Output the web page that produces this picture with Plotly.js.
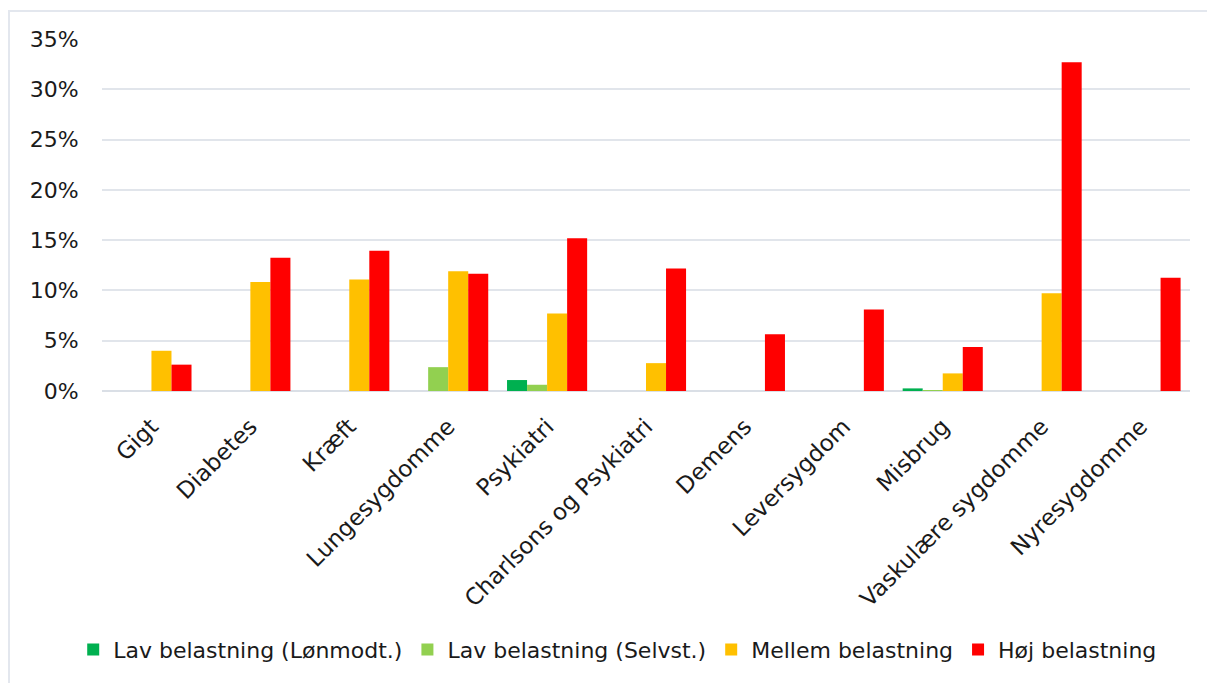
<!DOCTYPE html>
<html>
<head>
<meta charset="utf-8">
<script src="https://cdn.plot.ly/plotly-3.0.1.min.js"></script>
<style>
  html, body { margin: 0; padding: 0; background: #fff; }
  #wrap { position: relative; width: 1207px; height: 683px; overflow: hidden; }
  #chart { position: absolute; left: 0; top: 0; width: 1207px; height: 683px; }
  #frame { position: absolute; left: 8px; top: 10px; width: 1220px; height: 700px;
           border: 2px solid #e3e7ee; box-sizing: border-box; pointer-events: none; }
</style>
</head>
<body>
<div id="wrap">
  <div id="chart"></div>
  <div id="frame"></div>
</div>
<script>
const categories = ["Gigt", "Diabetes", "Kræft", "Lungesygdomme", "Psykiatri",
  "Charlsons og Psykiatri", "Demens", "Leversygdom", "Misbrug",
  "Vaskulære sygdomme", "Nyresygdomme"];

const lavLonmodt = [0, 0, 0, 0, 0.0109, 0, 0, 0, 0.0026, 0, 0];
const lavSelvst  = [0, 0, 0, 0.0237, 0.0062, 0, 0, 0, 0.0010, 0, 0];
const mellem     = [0.0400, 0.1085, 0.1108, 0.1190, 0.0770, 0.0277, 0, 0, 0.0175, 0.0972, 0];
const hoj        = [0.0262, 0.1325, 0.1395, 0.1167, 0.1520, 0.1217, 0.0564, 0.0810, 0.0438, 0.3270, 0.1125];

const seriesNames = ["Lav belastning (Lønmodt.)", "Lav belastning (Selvst.)", "Mellem belastning", "Høj belastning"];
const seriesColors = ["#00B050", "#92D050", "#FFC000", "#FF0000"];
const seriesValues = [lavLonmodt, lavSelvst, mellem, hoj];

const yTickVals = [0, 0.05, 0.10, 0.15, 0.20, 0.25, 0.30, 0.35];
const yTickText = ["0%", "5%", "10%", "15%", "20%", "25%", "30%", "35%"];

const font = "DejaVu Sans, Verdana, sans-serif";

const traces = seriesValues.map((vals, i) => ({
  type: "bar",
  name: seriesNames[i],
  x: categories,
  y: vals,
  marker: { color: seriesColors[i], line: { width: 0 } },
  hoverinfo: "x+y"
}));

const layout = {
  width: 1207,
  height: 683,
  margin: { l: 102, r: 17, t: 39, b: 289 },
  paper_bgcolor: "#ffffff",
  plot_bgcolor: "#ffffff",
  barmode: "group",
  bargap: 0.19,
  bargroupgap: 0,
  font: { family: font, color: "#1a1a1a", size: 21 },
  xaxis: {
    type: "category",
    tickangle: -45,
    tickfont: { family: font, size: 23, color: "#1a1a1a" },
    showgrid: false,
    showline: false,
    ticks: "outside",
    ticklen: 12,
    tickcolor: "rgba(0,0,0,0)",
    zeroline: false,
    automargin: false
  },
  yaxis: {
    range: [0, 0.35],
    tickvals: yTickVals,
    ticktext: yTickText,
    tickfont: { family: font, size: 22, color: "#1a1a1a" },
    showgrid: true,
    gridcolor: "#e1e5eb",
    gridwidth: 2,
    zeroline: true,
    zerolinecolor: "#dadfe6",
    zerolinewidth: 2,
    showline: false,
    ticks: "outside",
    ticklen: 18,
    tickcolor: "rgba(0,0,0,0)",
    fixedrange: true,
    automargin: false
  },
  showlegend: true,
  legend: {
    orientation: "h",
    x: 0.474,
    xanchor: "center",
    y: -0.735,
    yanchor: "middle",
    font: { family: font, size: 22, color: "#1a1a1a" },
    itemwidth: 30,
    traceorder: "normal",
    bgcolor: "rgba(0,0,0,0)"
  }
};

Plotly.newPlot("chart", traces, layout, { displayModeBar: false, staticPlot: true });
</script>
</body>
</html>
